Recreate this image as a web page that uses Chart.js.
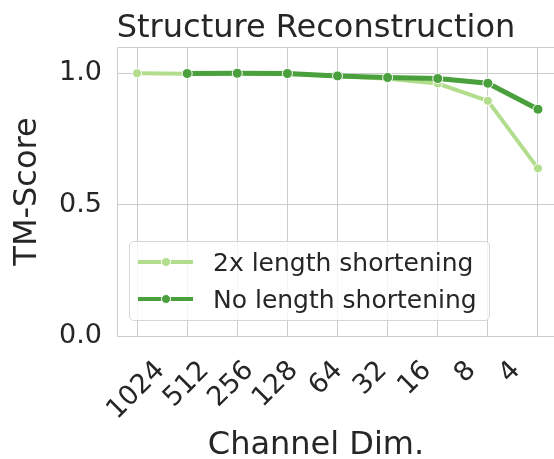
<!DOCTYPE html>
<html>
<head>
<meta charset="utf-8">
<script src="https://cdn.jsdelivr.net/npm/chart.js@4.4.1/dist/chart.umd.min.js"></script>
<style>
  html, body { margin: 0; padding: 0; background: #fff; overflow: hidden; }
  #wrap { position: relative; width: 554px; height: 459px; }
  #legend {
    position: absolute; left: 129px; top: 241px; width: 359px; height: 78px;
    border: 1px solid #d6d6d6; border-radius: 5px; background: rgba(255,255,255,0.8);
    font-family: "DejaVu Sans", sans-serif; font-size: 25px; color: #262626;
  }
  .row { position: absolute; left: 8px; height: 30px; display: flex; align-items: center; }
  .handle { position: relative; width: 55px; height: 4px; margin-right: 20px; }
  .dot { position: absolute; left: 23px; top: -3px; width: 8px; height: 8px; border-radius: 50%; border: 1px solid #fff; }
</style>
</head>
<body>
<div id="wrap">
  <canvas id="chart" width="554" height="459"></canvas>
  <div id="legend"></div>
</div>
<script>
const channelDims = ['1024', '512', '256', '128', '64', '32', '16', '8', '4'];
const shortened = [1.0, 0.998, 0.999, 0.997, 0.99, 0.979, 0.961, 0.895, 0.638];
const noShortening = [null, 0.999, 1.0, 0.999, 0.99, 0.984, 0.98, 0.962, 0.863];
const yTicks = [0.0, 0.5, 1.0];
const seriesNames = ['2x length shortening', 'No length shortening'];
const seriesColors = ['#b2dd8c', '#4aa03c'];

const textColor = '#262626';
const gridColor = '#cccccc';
const font = 'DejaVu Sans';

function toPoints(values) {
    return values.map((v, i) => ({ x: i, y: v }));
}

// title and x label sit over the (cropped) original axes centre
const textPlugin = {
    id: 'texts',
    beforeDatasetsDraw(chart) {
        const { ctx, chartArea } = chart;
        ctx.save();
        ctx.strokeStyle = gridColor;
        ctx.lineWidth = 1;
        ctx.beginPath();
        ctx.moveTo(chartArea.right, chartArea.top + 0.5);
        ctx.lineTo(chartArea.left + 0.5, chartArea.top + 0.5);
        ctx.lineTo(chartArea.left + 0.5, chartArea.bottom + 0.5);
        ctx.lineTo(chartArea.right, chartArea.bottom + 0.5);
        ctx.stroke();
        ctx.restore();
    },
    afterDraw(chart) {
        const { ctx } = chart;
        const mid = 316;
        ctx.save();
        ctx.fillStyle = textColor;
        ctx.textAlign = 'center';
        ctx.textBaseline = 'alphabetic';
        ctx.font = `32px "${font}"`;
        ctx.fillText('Structure Reconstruction', mid, 37);
        ctx.fillText('Channel Dim.', mid, 454);
        ctx.restore();
    }
};

const ctx = document.getElementById('chart').getContext('2d');
const chart = new Chart(ctx, {
    type: 'line',
    data: {
        datasets: [
            {
                label: seriesNames[0],
                data: toPoints(shortened),
                borderColor: seriesColors[0],
                backgroundColor: seriesColors[0],
                borderWidth: 4,
                pointRadius: 4.5,
                pointBorderColor: '#ffffff',
                pointBorderWidth: 1,
                pointBackgroundColor: seriesColors[0],
                order: 2
            },
            {
                label: seriesNames[1],
                data: toPoints(noShortening),
                borderColor: seriesColors[1],
                backgroundColor: seriesColors[1],
                borderWidth: 5,
                pointRadius: 5,
                pointBorderColor: '#ffffff',
                pointBorderWidth: 1,
                pointBackgroundColor: seriesColors[1],
                order: 1
            }
        ]
    },
    options: {
        responsive: false,
        animation: false,
        layout: { autoPadding: false, padding: { top: 47, right: 0, left: 0, bottom: 0 } },
        plugins: { legend: { display: false }, tooltip: { enabled: false } },
        scales: {
            x: {
                type: 'linear',
                position: 'bottom',
                min: -0.4,
                max: 8.32,
                afterBuildTicks: (scale) => { scale.ticks = channelDims.map((_, i) => ({ value: i })); },
                ticks: { display: false },
                grid: { color: gridColor, lineWidth: 1, drawTicks: false },
                border: { display: false },
                afterFit: (scale) => { scale.height = 0; scale.paddingLeft = 0; scale.paddingRight = 0; }
            },
            xl: {
                type: 'linear',
                position: 'bottom',
                min: -0.98,
                max: 8.85,
                afterBuildTicks: (scale) => { scale.ticks = channelDims.map((_, i) => ({ value: i })); },
                ticks: {
                    autoSkip: false,
                    minRotation: 45,
                    maxRotation: 45,
                    padding: 19,
                    color: textColor,
                    font: { family: font, size: 27 },
                    callback: (v) => channelDims[v]
                },
                grid: { display: false, drawTicks: false },
                border: { display: false },
                afterFit: (scale) => { scale.height = 123; scale.paddingLeft = 0; scale.paddingRight = 0; }
            },
            y: {
                min: 0,
                max: 1.1,
                afterBuildTicks: (scale) => { scale.ticks = yTicks.map(v => ({ value: v })); },
                ticks: {
                    color: textColor,
                    padding: 15,
                    font: { family: font, size: 27 },
                    callback: (v) => v.toFixed(1)
                },
                grid: { color: gridColor, lineWidth: 1, drawTicks: false },
                border: { display: false },
                title: {
                    display: true,
                    text: 'TM-Score',
                    color: textColor,
                    font: { family: font, size: 32, lineHeight: 1 },
                    padding: { top: 12, bottom: 0 }
                },
                afterFit: (scale) => { scale.width = 117; }
            }
        }
    },
    plugins: [textPlugin]
});

// legend built from the same series arrays
const legend = document.getElementById('legend');
seriesNames.forEach((name, i) => {
    const row = document.createElement('div');
    row.className = 'row';
    row.style.top = (5 + i * 37) + 'px';
    row.innerHTML = `<div class="handle" style="background:${seriesColors[i]}"><div class="dot" style="background:${seriesColors[i]}"></div></div><span>${name}</span>`;
    legend.appendChild(row);
});
</script>
</body>
</html>
